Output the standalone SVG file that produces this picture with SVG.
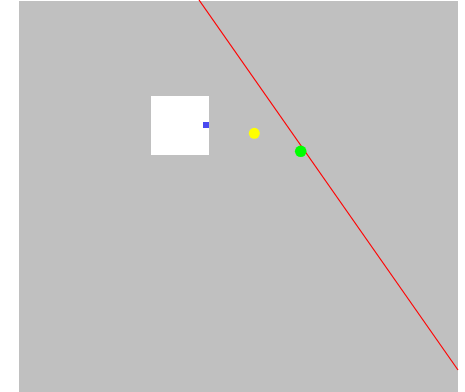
<svg xmlns="http://www.w3.org/2000/svg" width="465" height="392" viewBox="0 0 465 392">
<style>
.bg{fill:#c0c0c0}
.line{stroke:#ff0000;stroke-width:1.2;fill:none}
</style>
<rect x="0" y="0" width="465" height="392" fill="#ffffff"/>
<rect class="bg" x="19" y="1" width="439" height="391"/>
<g id="box">
<rect x="151" y="96" width="58" height="59" fill="#ffffff"/>
<rect x="203" y="122" width="6" height="6" fill="#4a4af0"/>
</g>
<g id="connectors">
<line class="line" x1="199" y1="0" x2="458" y2="370"/>
</g>
<g id="yellow"><circle cx="254.3" cy="133.3" r="5.5" fill="#ffff00"/></g>
<g id="green"><circle cx="300.7" cy="151.3" r="5.8" fill="#00ff00"/></g>
</svg>
